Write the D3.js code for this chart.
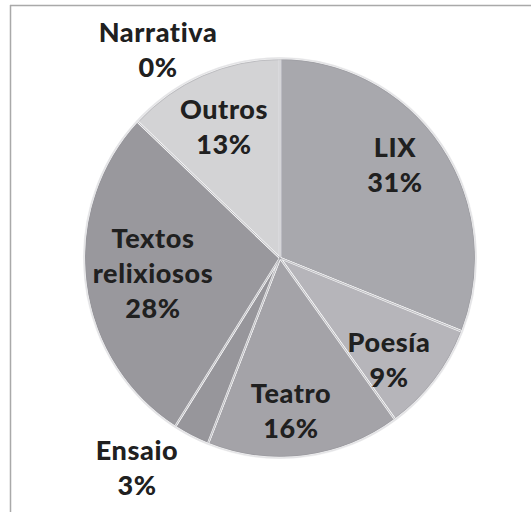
<!DOCTYPE html>
<html>
<head>
<meta charset="utf-8">
<script src="https://cdn.jsdelivr.net/npm/d3@7"></script>
<style>
  html, body { margin: 0; padding: 0; background: #fff; }
  svg { display: block; }
</style>
</head>
<body>
<svg id="chart" width="531" height="512"></svg>
<script>
// Distribution of titles by genre (percent)
const categories = ["LIX", "Poesía", "Teatro", "Ensaio", "Textos relixiosos", "Outros", "Narrativa"];
const values = [31, 9, 16, 3, 28, 13, 0];
const fills = ["#a8a8ad", "#b6b5ba", "#a4a3a8", "#97969b", "#99989d", "#d3d3d5", "#e2e2e4"];

// Label lines per slice (name lines, then value)
const labelLines = [
  ["LIX"], ["Poesía"], ["Teatro"], ["Ensaio"], ["Textos", "relixiosos"], ["Outros"], ["Narrativa"]
];
// Label anchor: [x, y of first baseline]
const labelPos = [
  [395, 157], [389, 352], [291, 403], [137, 460], [153, 248], [224, 119], [158, 42]
];

const svg = d3.select("#chart");

// Frame lines (top and left)
svg.append("line").attr("x1", 10).attr("y1", 5.5).attr("x2", 531).attr("y2", 5.5)
  .attr("stroke", "#a9a9a9").attr("stroke-width", 1.5);
svg.append("line").attr("x1", 10.5).attr("y1", 5).attr("x2", 10.5).attr("y2", 512)
  .attr("stroke", "#a9a9a9").attr("stroke-width", 1.5);

const cx = 280, cy = 258, r = 196;

const data = categories.map((c, i) => ({ name: c, value: values[i], fill: fills[i] }));
const pie = d3.pie().value(d => d.value).sort(null);
const arc = d3.arc().innerRadius(0).outerRadius(r);

const g = svg.append("g").attr("transform", `translate(${cx},${cy}) scale(1,1.02)`);

const arcs = pie(data);
g.selectAll("path.slice")
  .data(arcs)
  .join("path")
  .attr("class", "slice")
  .attr("d", arc)
  .attr("fill", d => d.data.fill)
  .attr("stroke", "#f6f6f7")
  .attr("stroke-width", 2.2)
  .attr("stroke-linejoin", "round");

// Thin darker edge along each slice boundary for the bevelled look
g.selectAll("path.edge")
  .data(arcs.filter(d => d.value > 0))
  .join("path")
  .attr("class", "edge")
  .attr("d", d3.arc().innerRadius(0).outerRadius(r - 1.5))
  .attr("fill", "none")
  .attr("stroke", "#8f8f94")
  .attr("stroke-width", 0.6)
  .attr("stroke-opacity", 0.55);

// Light outer rim
g.append("circle").attr("r", r).attr("fill", "none")
  .attr("stroke", "#e4e4e6").attr("stroke-width", 1.5);

// Labels
const labels = svg.append("g")
  .attr("font-family", "Lato, 'DejaVu Sans', sans-serif")
  .attr("font-weight", 900)
  .attr("font-size", 27)
  .attr("letter-spacing", 0.6)
  .attr("fill", "#202020")
  .attr("text-anchor", "middle");

data.forEach((d, i) => {
  const lines = labelLines[i].concat([d.value + "%"]);
  const [x, y] = labelPos[i];
  const t = labels.append("text").attr("x", x).attr("y", y);
  lines.forEach((ln, j) => {
    t.append("tspan").attr("x", x).attr("y", y + j * 35).text(ln);
  });
});
</script>
</body>
</html>
